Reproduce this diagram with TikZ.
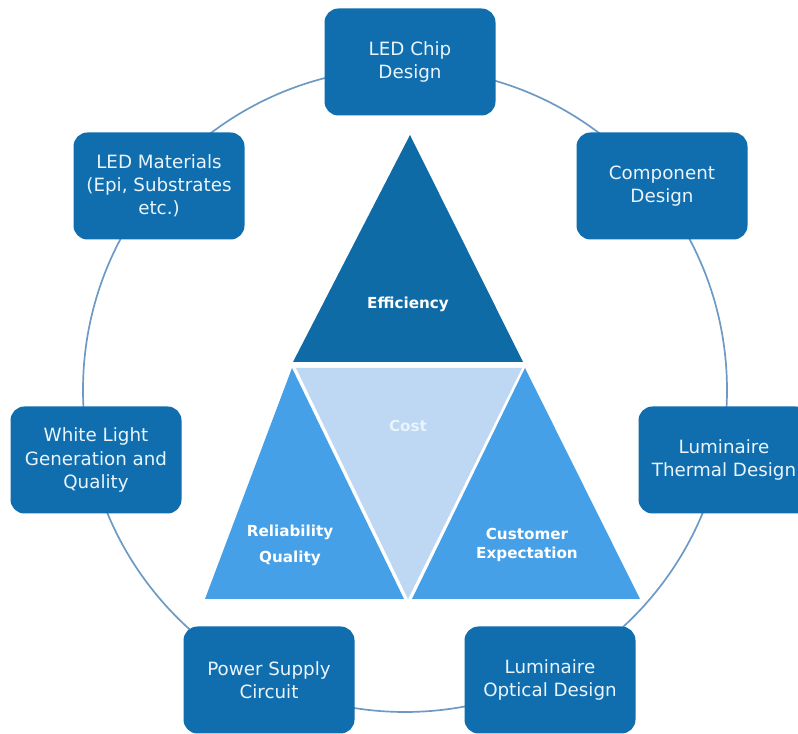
\documentclass[tikz,border=0pt]{standalone}
\usepackage{fontspec}
\setmainfont{DejaVu Sans}
\usepackage{xcolor}

\definecolor{cajaazul}{HTML}{106EAF}
\definecolor{efiazul}{HTML}{0F6BA6}
\definecolor{medioazul}{HTML}{45A0E8}
\definecolor{costoazul}{HTML}{BED7F3}
\definecolor{anillo}{HTML}{6C9AC4}
\definecolor{textoclaro}{HTML}{EAF4FB}

\tikzset{
    caja/.style={fill=cajaazul, rounded corners=14*0.025cm, minimum width=171*0.025cm,
        minimum height=107*0.025cm, inner sep=0pt, align=center, text=textoclaro,
        font=\fontsize{13}{16.5}\selectfont},
    etiqueta/.style={text=white, align=center, font=\fontsize{10.8}{14}\selectfont\bfseries}
}

\begin{document}
\begin{tikzpicture}[x=0.025cm, y=-0.025cm]

    % marco de la figura
    \clip (0,0) rectangle (798,734);
    \fill[white] (0,0) rectangle (798,734);

    % anillo de fondo
    \draw[anillo, line width=1.2pt] (405,390) circle (322);

    % triangulo superior: eficiencia
    \fill[efiazul] (410,135) -- (523,362) -- (293,362) -- cycle;

    % fila inferior
    \fill[medioazul] (292,368) -- (404,599) -- (205,599) -- cycle;
    \fill[costoazul] (296,368) -- (522,368) -- (408,599) -- cycle;
    \fill[medioazul] (525,368) -- (640,599) -- (412,599) -- cycle;

    % textos de los triangulos
    \node[etiqueta] (efi) at (408,304) {Efficiency};
    \node[etiqueta, text=textoclaro] (costo) at (408,426) {Cost};
    \node[etiqueta] (confi) at (290,545) {Reliability\\[4.5pt]Quality};
    \node[etiqueta] (cliente) at (527,545) {Customer\\Expectation};

    % cajas alrededor del anillo
    \node[caja] (chip) at (410,62) {LED Chip\\Design};
    \node[caja] (comp) at (662,186) {Component\\Design};
    \node[caja] (termico) at (724,460) {Luminaire\\Thermal Design};
    \node[caja] (optico) at (550,680) {Luminaire\\Optical Design};
    \node[caja] (fuente) at (269,680) {Power Supply\\Circuit};
    \node[caja] (blanca) at (96,460) {White Light\\Generation and\\Quality};
    \node[caja] (materiales) at (159,186) {LED Materials\\(Epi, Substrates\\etc.)};

\end{tikzpicture}
\end{document}
